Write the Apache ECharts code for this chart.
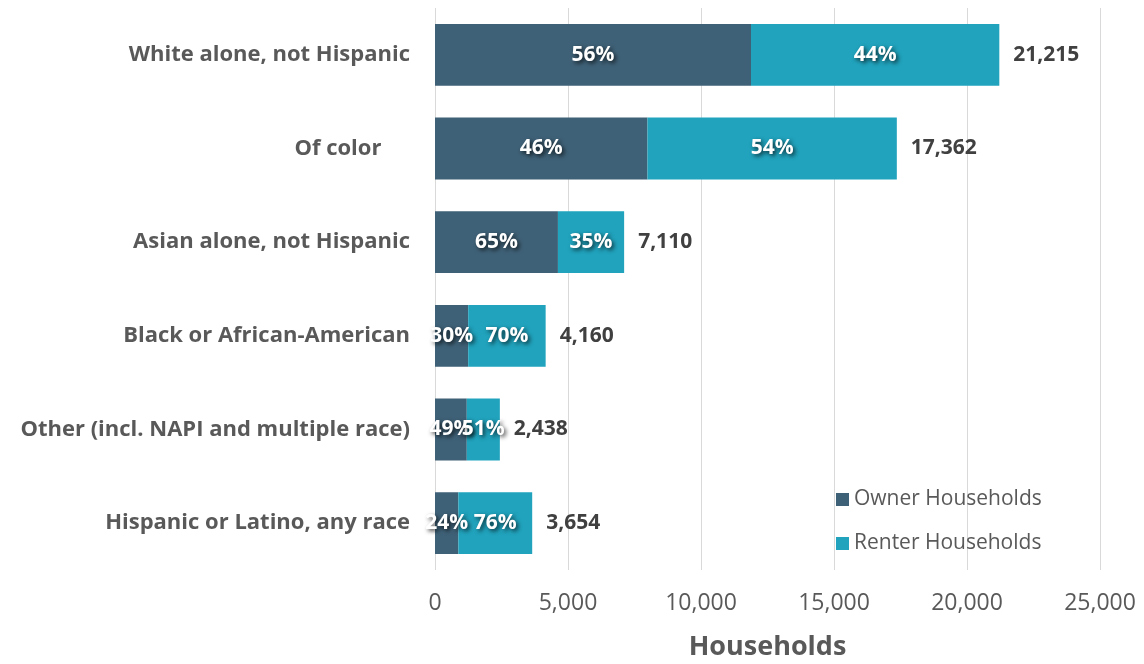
<!DOCTYPE html>
<html><head><meta charset="utf-8">
<script src="https://cdn.jsdelivr.net/npm/echarts@6/dist/echarts.min.js"></script>
<style>html,body{margin:0;padding:0;background:#fff}#c{width:1144px;height:664px}</style>
</head><body><div id="c"></div>
<script>
var categories = ["White alone, not Hispanic","Of color     ","Asian alone, not Hispanic","Black or African-American","Other (incl. NAPI and multiple race)","Hispanic or Latino, any race"];
var totals = [21215, 17362, 7110, 4160, 2438, 3654];
var ownerPct = [56, 46, 65, 30, 49, 24];
var renterPct = [44, 54, 35, 70, 51, 76];
var xTicks = [0, 5000, 10000, 15000, 20000, 25000];

var FONT = 'Open Sans';
var cats = categories.slice().reverse();
var T = totals.slice().reverse(), OP = ownerPct.slice().reverse(), RP = renterPct.slice().reverse();
var ownerVals = T.map(function(t,i){return Math.round(t*OP[i]/100);});
var renterVals = T.map(function(t,i){return t - ownerVals[i];});
var pctLabel = {show:true, position:'inside', color:'#fff', fontFamily:FONT, fontWeight:'bold', fontSize:21,
  textShadowColor:'rgba(0,0,0,0.75)', textShadowBlur:4, textShadowOffsetX:2, textShadowOffsetY:2};
var chart = echarts.init(document.getElementById('c'), null, {renderer:'canvas'});
chart.setOption({
  animation:false,
  grid:{left:435, right:44, top:8, bottom:94, containLabel:false, outerBoundsMode:'none'},
  legend:{orient:'vertical', left:831, top:484, itemGap:23, itemWidth:13, itemHeight:13, icon:'rect',
    textStyle:{fontFamily:FONT, fontSize:21, color:'#595959'}, data:['Owner Households','Renter Households']},
  xAxis:{type:'value', min:0, max:25000, interval:5000,
    name:'Households', nameLocation:'middle', nameGap:64,
    nameTextStyle:{fontFamily:FONT, fontWeight:'bold', fontSize:27, color:'#595959'},
    axisLabel:{fontFamily:FONT, fontSize:23, color:'#595959', margin:22,
      formatter:function(v){return xTicks.indexOf(v)>=0 ? v.toLocaleString('en-US') : '';}},
    axisLine:{show:false}, axisTick:{show:false},
    splitLine:{show:true, lineStyle:{color:'#d9d9d9', width:1}}},
  yAxis:{type:'category', data:cats, axisLine:{show:false}, axisTick:{show:false},
    axisLabel:{fontFamily:FONT, fontWeight:'bold', fontSize:22, color:'#595959', margin:25}},
  series:[
    {name:'Owner Households', type:'bar', stack:'s', barWidth:'66%', itemStyle:{color:'#3f6177'},
      data:ownerVals, label:Object.assign({}, pctLabel, {formatter:function(p){return OP[p.dataIndex]+'%';}})},
    {name:'Renter Households', type:'bar', stack:'s', itemStyle:{color:'#21a3bd'},
      data:renterVals, label:Object.assign({}, pctLabel, {formatter:function(p){return RP[p.dataIndex]+'%';}})},
    {name:'total', type:'bar', stack:'s', data:T.map(function(){return 0;}), itemStyle:{color:'transparent'},
      label:{show:true, position:'right', distance:14, fontFamily:FONT, fontWeight:'bold', fontSize:21, color:'#404040',
        formatter:function(p){return T[p.dataIndex].toLocaleString('en-US');}}}
  ]
});
</script></body></html>
